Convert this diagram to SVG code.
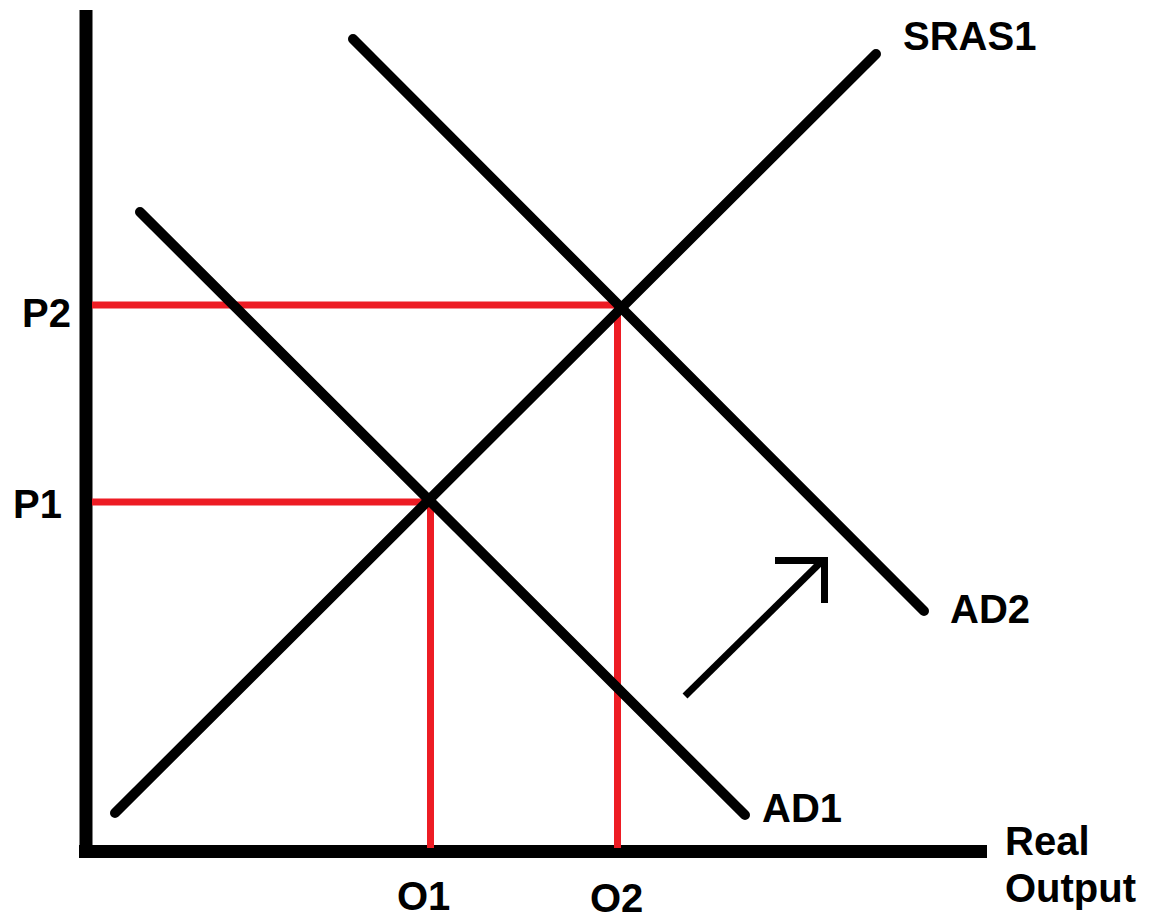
<svg xmlns="http://www.w3.org/2000/svg" width="1156" height="920" viewBox="0 0 1156 920">
<style>
.curve{stroke:#000;stroke-width:10;stroke-linecap:round;fill:none}
.axis{stroke:#000;stroke-width:13;fill:none}
.red{stroke:#ED1C24;stroke-width:7;fill:none}
.arrow{stroke:#000;stroke-width:7;fill:none}
text{font-family:"Liberation Sans",Arial,sans-serif;font-weight:bold;font-size:40px;fill:#000}
</style>
<rect width="1156" height="920" fill="#fff"/>
<g id="axes">
<line class="axis" x1="86" y1="10" x2="86" y2="858"/>
<line class="axis" x1="79" y1="851.5" x2="987" y2="851.5"/>
</g>
<g id="guides">
<polyline class="red" points="92,502 430.5,502 430.5,848"/>
<polyline class="red" points="92,305 617.5,305 617.5,848"/>
</g>
<g id="connectors">
<line id="SRAS1-curve" class="curve" x1="115" y1="813" x2="876" y2="54"/>
<line id="AD1-curve" class="curve" x1="140" y1="212" x2="745" y2="815"/>
<line id="AD2-curve" class="curve" x1="353" y1="39" x2="924" y2="611"/>
<g id="shift-arrow">
<line class="arrow" x1="685" y1="696" x2="822" y2="561"/>
<polyline class="arrow" points="775,560.5 824.5,560.5 824.5,603"/>
</g>
</g>
<g id="labels">
<text x="903" y="50">SRAS1</text>
<text x="950" y="623">AD2</text>
<text x="762" y="822">AD1</text>
<text x="22" y="327">P2</text>
<text x="13" y="518">P1</text>
<text x="397" y="910">O1</text>
<text x="590" y="912">O2</text>
<text x="1005" y="855">Real</text>
<text x="1005" y="902">Output</text>
</g>
</svg>
